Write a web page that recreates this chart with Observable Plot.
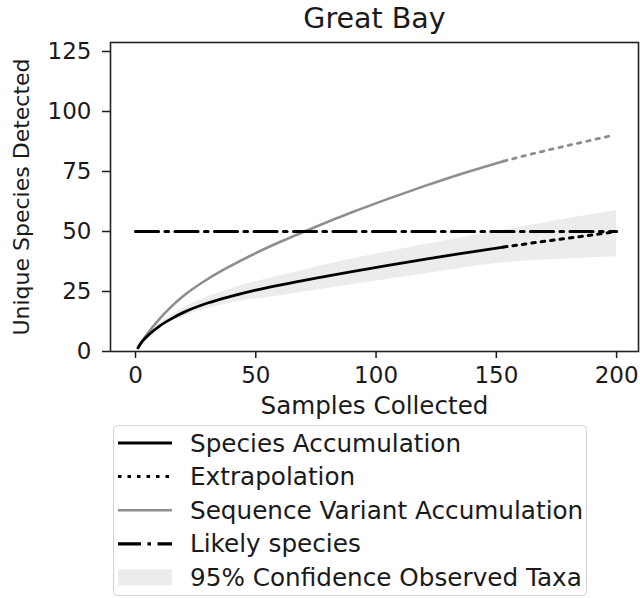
<!DOCTYPE html>
<html>
<head>
<meta charset="utf-8">
<script src="https://cdn.jsdelivr.net/npm/d3@7"></script>
<script src="https://cdn.jsdelivr.net/npm/@observablehq/plot@0.6"></script>
<style>
  body { margin: 0; background: #fff; }
  #wrap { position: relative; width: 640px; height: 598px; overflow: hidden; font-family: "DejaVu Sans", sans-serif; }
  #wrap svg { position: absolute; left: 0; top: 0; }
</style>
</head>
<body>
<div id="wrap"></div>
<script>
// ---- data ----
const titleText = "Great Bay";
const xLabel = "Samples Collected";
const yLabel = "Unique Species Detected";

const samples      = [1, 2.5, 5, 10, 15, 20, 30, 40, 50, 60, 75, 90, 105, 120, 135, 153];
const speciesObs   = [1.5, 3.8, 6.5, 10.6, 13.7, 16.3, 20.2, 23.1, 25.6, 27.7, 30.6, 33.3, 35.9, 38.4, 40.8, 43.5];
const variantObs   = [1.5, 4, 7.5, 13.6, 18.8, 23.2, 30.2, 35.9, 41, 45.6, 52, 58, 63.6, 68.9, 73.9, 79.3];

const extrapSamples = [153, 170, 185, 198];
const speciesExt    = [43.5, 45.9, 47.9, 49.7];
const variantExt    = [79.3, 83.6, 87, 90];

const bandSamples = [1, 10, 20, 40, 60, 90, 120, 153, 175, 200];
const bandLow     = [1.2, 9.8, 14.5, 20.3, 23.2, 27.8, 32.3, 37, 38.3, 39.5];
const bandHigh    = [1.8, 11.6, 18.2, 26.3, 31.5, 38.5, 44.5, 50.5, 54.5, 58.7];

const likelySamples = [0, 200];
const likelySpecies = 50;

const xTicks = [0, 50, 100, 150, 200];
const yTicks = [0, 25, 50, 75, 100, 125];

const legendLabels = [
  "Species Accumulation",
  "Extrapolation",
  "Sequence Variant Accumulation",
  "Likely species",
  "95% Confidence Observed Taxa"
];

// ---- build tables ----
const obs = samples.map((x, i) => ({x, species: speciesObs[i], variant: variantObs[i]}));
const ext = extrapSamples.map((x, i) => ({x, species: speciesExt[i], variant: variantExt[i]}));
const band = bandSamples.map((x, i) => ({x, lo: bandLow[i], hi: bandHigh[i]}));
const likely = likelySamples.map(x => ({x, y: likelySpecies}));

const GRAY = "#8e8e8e";
const INK = "#1a1a1a";
const DASHDOT = "23,6.5,3.5,6.5";
const DOTS = "3.5,6";

const chart = Plot.plot({
  width: 640,
  height: 598,
  marginLeft: 110,
  marginRight: 2,
  marginTop: 42,
  marginBottom: 247,
  style: {fontFamily: "DejaVu Sans, sans-serif", fontSize: "23px", color: INK, background: "transparent"},
  x: {domain: [-10.4, 209.1]},
  y: {domain: [0, 128.75]},
  marks: [
    Plot.areaY(band, {x: "x", y1: "lo", y2: "hi", fill: "#ececec", curve: "monotone-x"}),
    Plot.line(obs, {x: "x", y: "variant", stroke: GRAY, strokeWidth: 2.6, curve: "monotone-x"}),
    Plot.line(ext, {x: "x", y: "variant", stroke: GRAY, strokeWidth: 2.8, strokeDasharray: DOTS, curve: "monotone-x"}),
    Plot.line(likely, {x: "x", y: "y", stroke: "#000", strokeWidth: 3.2, strokeDasharray: DASHDOT}),
    Plot.line(obs, {x: "x", y: "species", stroke: "#000", strokeWidth: 2.8, curve: "monotone-x"}),
    Plot.line(ext, {x: "x", y: "species", stroke: "#000", strokeWidth: 3, strokeDasharray: DOTS, curve: "monotone-x"}),
    Plot.frame({stroke: "#222", strokeWidth: 1.6}),
    Plot.axisX({ticks: xTicks, tickSize: 7, tickFormat: () => "", strokeWidth: 1.5, label: null}),
    Plot.axisY({ticks: yTicks, tickSize: 8, tickFormat: () => "", strokeWidth: 1.5, label: null}),
    Plot.text(xTicks, {x: d => d, text: d => String(d), frameAnchor: "bottom", lineAnchor: "top", dy: 15, fontSize: 23, fill: INK}),
    Plot.text(yTicks, {y: d => d, text: d => String(d), frameAnchor: "left", textAnchor: "end", lineAnchor: "middle", dx: -19, fontSize: 23, fill: INK}),
    Plot.text([xLabel], {text: d => d, frameAnchor: "bottom", textAnchor: "middle", dy: 55, fontSize: 24.6, lineAnchor: "middle", fill: INK}),
    Plot.text([yLabel], {text: d => d, frameAnchor: "left", textAnchor: "middle", dx: -89, rotate: -90, fontSize: 22, lineAnchor: "middle", fill: INK}),
    Plot.text([titleText], {text: d => d, frameAnchor: "top", textAnchor: "middle", dy: -24, fontSize: 28.5, lineAnchor: "middle", fill: INK})
  ]
});
document.getElementById("wrap").appendChild(chart);

// ---- legend ----
const lg = d3.select("#wrap").append("svg")
  .attr("width", 640).attr("height", 598)
  .style("font-family", "DejaVu Sans, sans-serif");
lg.append("rect")
  .attr("x", 113.5).attr("y", 425.5).attr("width", 473).attr("height", 170)
  .attr("rx", 4).attr("fill", "#fff").attr("fill-opacity", 0.85)
  .attr("stroke", "#d2d2d2").attr("stroke-width", 1);
const rowY = i => 443 + i * 33.6;
const styles = [
  {type: "line", stroke: "#000", w: 2.8, dash: null},
  {type: "line", stroke: "#000", w: 3, dash: DOTS},
  {type: "line", stroke: GRAY, w: 2.6, dash: null},
  {type: "line", stroke: "#000", w: 3.2, dash: DASHDOT},
  {type: "patch", fill: "#ececec"}
];
legendLabels.forEach((label, i) => {
  const y = rowY(i);
  const s = styles[i];
  if (s.type === "line") {
    lg.append("line").attr("x1", 118).attr("x2", 172).attr("y1", y).attr("y2", y)
      .attr("stroke", s.stroke).attr("stroke-width", s.w)
      .attr("stroke-dasharray", s.dash);
  } else {
    lg.append("rect").attr("x", 118).attr("y", y - 8).attr("width", 54).attr("height", 16).attr("fill", s.fill);
  }
  lg.append("text").attr("x", 190).attr("y", y).attr("dy", "0.35em")
    .attr("font-size", 24.7).attr("fill", INK).text(label);
});
</script>
</body>
</html>
